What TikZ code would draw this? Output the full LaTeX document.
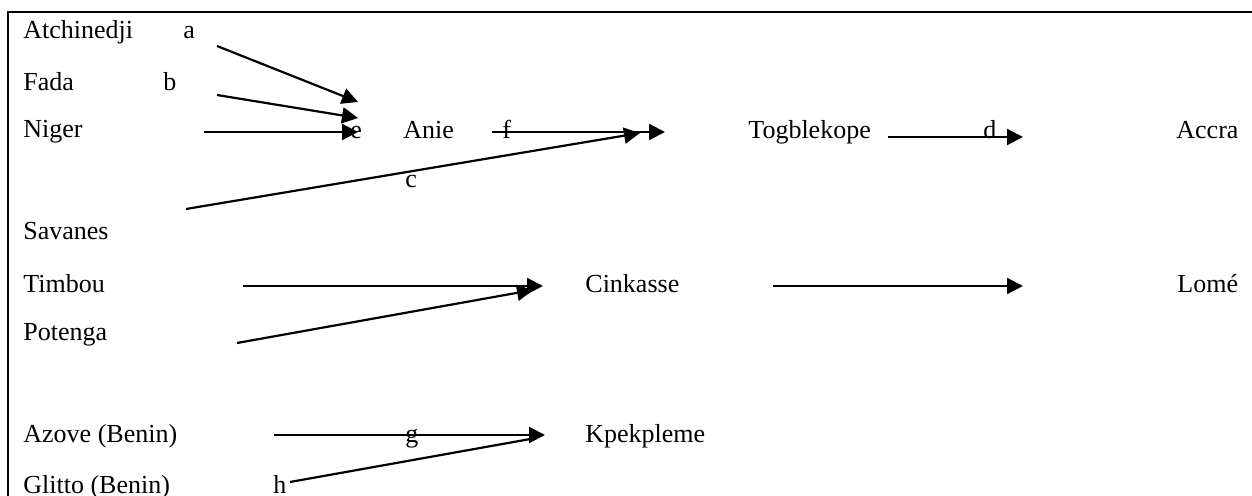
\documentclass[tikz,border=0pt]{standalone}
\usepackage{fontspec}
\setmainfont{Liberation Serif}
\usetikzlibrary{arrows.meta}
\tikzstyle{place}=[anchor=base west,inner sep=0pt,font=\fontsize{13}{15}\selectfont]
\tikzstyle{route}=[draw,line width=1.1pt,-{Triangle[length=8pt,width=8pt]}]
\tikzstyle{feeder}=[draw,line width=1.1pt]

\begin{document}
\begin{tikzpicture}[x=0.5pt, y=-0.5pt]

   \useasboundingbox (0,0) rectangle (1252,496);
   \draw[line width=1.3pt] (8,12) rectangle (1270,520);

    \foreach \pos/\name/\txt in {{(23,39)/atch/Atchinedji}, {(23,91)/fada/Fada}, {(23,138)/niger/Niger},
        {(403,139)/anie/Anie}, {(748,139)/togb/Togblekope}, {(1176,139)/accra/Accra},
        {(23,240)/sav/Savanes}, {(23,293)/timb/Timbou}, {(585,293)/cink/Cinkasse}, {(1177,293)/lome/Lomé},
        {(23,341)/pot/Potenga}, {(23,443)/azove/Azove (Benin)}, {(585,443)/kpek/Kpekpleme},
        {(23,493)/glitto/Glitto (Benin)}}
        \node[place] (\name) at \pos {\txt};

    \foreach \pos/\name in {{(183,39)/a}, {(163,91)/b}, {(405,188)/c}, {(983,139)/d},
        {(350,139)/e}, {(502,139)/f}, {(405,443)/g}, {(273,493)/h}}
        \node[place] (lab\name) at \pos {\name};

    % ends of the connectors
    \foreach \pos/\name in {{(217,46)/aS}, {(358,102)/aT}, {(217,95)/bS}, {(358,118)/bT},
        {(204,132)/nS}, {(358,132)/nT}, {(186,209)/cS}, {(640,133)/cT},
        {(492,132)/fS}, {(665,132)/fT}, {(888,137)/dS}, {(1023,137)/dT},
        {(243,286)/tS}, {(543,286)/tT}, {(237,343)/pS}, {(533,290)/pT},
        {(773,286)/kS}, {(1023,286)/kT}, {(274,435)/gS}, {(545,435)/gT},
        {(290,482)/hS}, {(536,438)/hT}}
        \path \pos coordinate (\name);

    \foreach \source/\dest in {aS/aT, bS/bT, nS/nT, cS/cT, fS/fT, dS/dT, tS/tT, pS/pT, kS/kT, gS/gT}
            \path[route] (\source) -- (\dest);

    \path[feeder] (hS) -- (hT);

\end{tikzpicture}
\end{document}
